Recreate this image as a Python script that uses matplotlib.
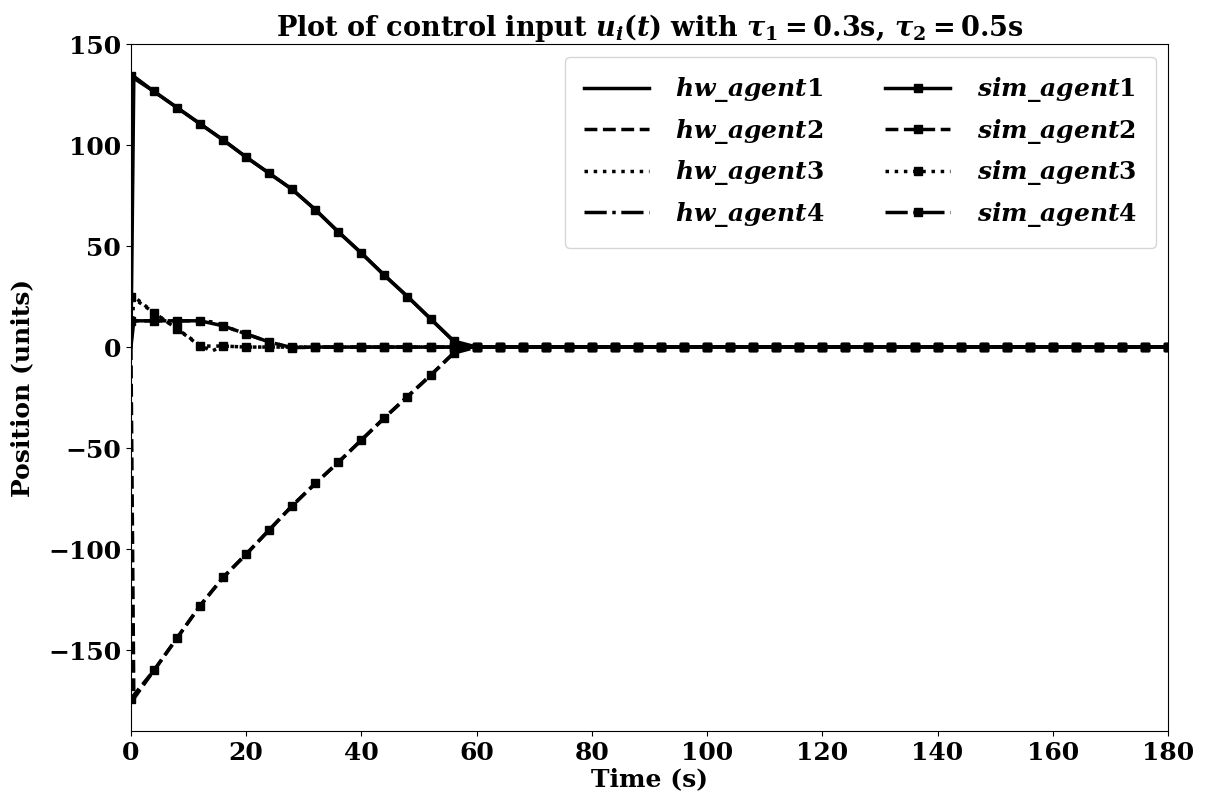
import numpy as np
import matplotlib
matplotlib.use('Agg')
import matplotlib.pyplot as plt

# bold serif everywhere, bold-italic math
plt.rcParams['font.family'] = ['DejaVu Serif']
plt.rcParams['font.weight'] = 'bold'
plt.rcParams['axes.titleweight'] = 'bold'
plt.rcParams['axes.labelweight'] = 'bold'
plt.rcParams['mathtext.fontset'] = 'custom'
plt.rcParams['mathtext.rm'] = 'DejaVu Serif:bold'
plt.rcParams['mathtext.bf'] = 'DejaVu Serif:bold'
plt.rcParams['mathtext.it'] = 'DejaVu Serif:italic:bold'
plt.rcParams['font.size'] = 18

# ========== data ==========
# hardware runs (finer start so the jump at t~0.5 shows)
t_hw = [0, 0.5, 4, 8, 12, 14, 16, 20, 24, 28, 32, 36, 40, 44, 48, 52, 56, 58,
        60, 64, 68, 72, 76, 80, 84, 88, 92, 96, 100, 104, 108, 112, 116, 120,
        124, 128, 132, 136, 140, 144, 148, 152, 156, 160, 164, 168, 172, 176, 180]
n_tail_hw = 32  # settled part, t=58..180

hw_agent1 = [0, 134, 126.5, 118.5, 110.5, 106.5, 102.5, 94, 86, 78, 68, 57, 46.5, 35.5, 25, 14, 3] + [0] * n_tail_hw
hw_agent2 = [0, -174, -160, -144, -128, -121, -114, -102.5, -90.5, -78.5, -67.5, -57, -46, -35, -24.5, -14, -3] + [0] * n_tail_hw
hw_agent3 = [0, 25, 17, 9, 1, -2, 0.5, 0, 0, 0, 0, 0, 0, 0, 0, 0, 0] + [0] * n_tail_hw
hw_agent4 = [0, 13, 13, 13, 13, 12.5, 10.5, 6.5, 2.5, -0.3, 0, 0, 0, 0, 0, 0, 0] + [0] * n_tail_hw

# simulation runs, sampled every 4 s
t_sim = np.arange(0, 184, 4)
n_tail_sim = 31  # t=60..180

sim_agent1 = [134, 126.5, 118.5, 110.5, 102.5, 94, 86, 78, 68, 57, 46.5, 35.5, 25, 14, 3] + [0] * n_tail_sim
sim_agent2 = [-174, -160, -144, -128, -114, -102.5, -90.5, -78.5, -67.5, -57, -46, -35, -24.5, -14, -3] + [0] * n_tail_sim
sim_agent3 = [25, 17, 9, 0.5, 0.5, 0, 0, 0, 0, 0, 0, 0, 0, 0, 0] + [0] * n_tail_sim
sim_agent4 = [13, 13, 13, 13, 10.5, 6.5, 2.5, -0.3, 0, 0, 0, 0, 0, 0, 0] + [0] * n_tail_sim

styles = ['-', '--', ':', '-.']
hw_series = [hw_agent1, hw_agent2, hw_agent3, hw_agent4]
sim_series = [sim_agent1, sim_agent2, sim_agent3, sim_agent4]

fig = plt.figure(figsize=(12.08, 8), dpi=100)
ax = fig.add_axes([0.1084, 0.0863, 0.8585, 0.8587])

for i, (ls, y) in enumerate(zip(styles, hw_series)):
    ax.plot(t_hw, y, ls, color='black', linewidth=2.5,
            label=r'$hw\_agent%d$' % (i + 1))
for i, (ls, y) in enumerate(zip(styles, sim_series)):
    ax.plot(t_sim, y, ls, color='black', linewidth=2.5, marker='s', markersize=5.5,
            label=r'$sim\_agent%d$' % (i + 1))

ax.set_xlim(0, 180)
ax.set_ylim(-190, 150)
ax.set_xticks(np.arange(0, 181, 20))
ax.set_yticks(np.arange(-150, 151, 50))
ax.set_xlabel('Time (s)', labelpad=2)
ax.set_ylabel('Position (units)', labelpad=10)
ax.set_title(r'Plot of control input $u_i(t)$ with $\tau_1 = 0.3$s, $\tau_2 = 0.5$s',
             pad=5, fontsize=19.5)
ax.legend(ncol=2, loc='upper right', handlelength=2.6, handletextpad=1.05,
          columnspacing=2.4, labelspacing=0.5, borderpad=0.75)

plt.savefig('out.png', dpi=100)
